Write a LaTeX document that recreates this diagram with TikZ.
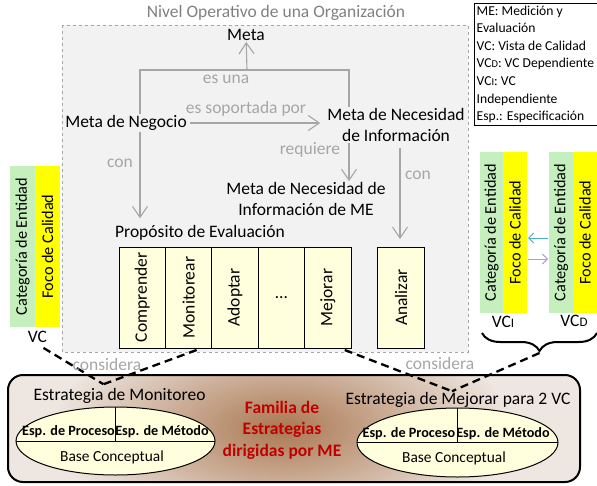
\documentclass[tikz,border=0pt]{standalone}
\usepackage{fontspec}
\setmainfont{Carlito}
\usetikzlibrary{positioning,calc,arrows.meta,shapes.geometric,decorations.pathreplacing}
\definecolor{grisrel}{RGB}{166,166,166}
\definecolor{gristit}{RGB}{128,128,128}
\definecolor{fondonivel}{RGB}{242,242,242}
\definecolor{crema}{RGB}{255,255,221}
\definecolor{verdevc}{RGB}{198,239,190}
\definecolor{amarillovc}{RGB}{255,255,0}
\definecolor{rojofam}{RGB}{192,0,0}
\definecolor{marron}{RGB}{170,120,82}
\definecolor{fondopanel}{RGB}{238,230,224}
\definecolor{azulflecha}{RGB}{75,172,198}
\definecolor{lilaflecha}{RGB}{177,160,199}
\newcommand{\vcsub}[2]{VC{\fontsize{#2}{#2}\selectfont #1}}

\begin{document}
\begin{tikzpicture}[x=1pt,y=-1pt,
  txt/.style={font=\fontsize{17.5}{21}\selectfont,inner sep=1pt,align=center},
  rel/.style={txt,text=grisrel},
  flecha/.style={draw=grisrel,line width=1.1pt,-{Straight Barb[length=11pt,width=15pt]}},
  linea/.style={draw=grisrel,line width=1.1pt},
  caja/.style={draw,fill=crema,line width=0.9pt,minimum width=46.4pt,minimum height=101pt,inner sep=0pt,outer sep=0pt,font=\fontsize{17.5}{21}\selectfont},
  vcverde/.style={fill=verdevc,minimum width=25pt,minimum height=161pt,inner sep=0pt,outer sep=0pt,font=\fontsize{16.3}{20}\selectfont},
  vcamarillo/.style={vcverde,fill=amarillovc},
  conector/.style={draw,line width=2.3pt,dash pattern=on 8pt off 5pt},
  esp/.style={font=\fontsize{14.2}{16}\selectfont\bfseries,inner sep=0pt},
  elipse/.style={draw,fill=crema,ellipse,line width=1pt,inner sep=0pt,outer sep=0pt}]
        \useasboundingbox (0,0) rectangle (597,485);
        %nivel operativo
        \draw[draw=grisrel,fill=fondonivel,dashed,line width=0.8pt] (62,25) rectangle (468,352);
        \node[txt,text=gristit] (titulo) at (276,13) {Nivel Operativo de una Organización};
        %metas
        \node[txt] (meta) at (246,35) {Meta};
        \node[txt] (negocio) at (126,123) {Meta de Negocio};
        \node[txt] (necinfo) at (396,125) {Meta de Necesidad\\de Información};
        \node[txt] (necme) at (306,199) {Meta de Necesidad de\\Información de ME};
        \node[txt] (proposito) at (200,233) {Propósito de Evaluación};
        %columnas de las flechas
        \coordinate (esuna) at (247,70);
        \coordinate (colA) at (140,0);
        \coordinate (colB) at (349,0);
        \coordinate (colC) at (400,0);
        \draw[linea] (negocio.north -| colA) |- (esuna) -| (necinfo.north -| colB);
        \draw[flecha] (esuna) -- (meta);
        \draw[flecha,shorten <=2pt,shorten >=6pt] (negocio.east) -- (necinfo.west |- negocio.east);
        \draw[flecha,shorten >=6pt] (negocio.south -| colA) -- (proposito.north -| colA);
        \draw[flecha] (necinfo.south -| colB) -- (necme.north -| colB);
        %propositos
        \node[caja] (comprender) at (142.2,297.5) {\rotatebox{90}{Comprender}};
        \node[caja,right=0pt of comprender] (monitorear) {\rotatebox{90}{Monitorear}};
        \node[caja,right=0pt of monitorear] (adoptar) {\rotatebox{90}{Adoptar}};
        \node[caja,right=0pt of adoptar] (puntos) {\dots};
        \node[caja,right=0pt of puntos] (mejorar) {\rotatebox{90}{Mejorar}};
        \node[caja] (analizar) at (401,297.5) {\rotatebox{90}{Analizar}};
        \draw[flecha,shorten <=5pt,shorten >=8pt] (necinfo.south -| colC) -- (analizar.north -| colC);
        %etiquetas
        \node[rel] (lesuna) at (226,79) {es una};
        \node[rel] (lsoporta) at (246,109) {es soportada por};
        \node[rel] (lconA) at (120,163) {con};
        \node[rel] (lrequiere) at (310,150) {requiere};
        \node[rel] (lconC) at (418,175) {con};
        %vista de calidad
        \node[vcverde] (catvc) at (22.5,246.5) {\rotatebox{90}{Categoría de Entidad}};
        \node[vcamarillo,right=0pt of catvc] (focvc) {\rotatebox{90}{Foco de Calidad}};
        \node[txt] (vc) at (37.5,337) {VC};
        \node[vcverde,minimum width=23pt] (catI) at (491.5,232.5) {\rotatebox{90}{Categoría de Entidad}};
        \node[vcamarillo,minimum width=24pt,right=0pt of catI] (focI) {\rotatebox{90}{Foco de Calidad}};
        \node[vcverde,minimum width=24pt] (catD) at (561,232.5) {\rotatebox{90}{Categoría de Entidad}};
        \node[vcamarillo,minimum width=24pt,right=0pt of catD] (focD) {\rotatebox{90}{Foco de Calidad}};
        \node[txt] (vcI) at (503,322) {\vcsub{I}{13}};
        \node[txt] (vcD) at (574,321) {\vcsub{D}{13}};
        \draw[azulflecha,line width=1pt,shorten <=1pt,shorten >=1pt,-{Straight Barb[length=5pt,width=10pt]}] ([yshift=-5.5pt]catD.west) -- ([yshift=-5.5pt]focI.east);
        \draw[lilaflecha,line width=1pt,shorten <=1pt,shorten >=1pt,-{Straight Barb[length=5pt,width=10pt]}] ([yshift=-26.5pt]focI.east) -- ([yshift=-26.5pt]catD.west);
        \draw[line width=2pt,decorate,decoration={brace,mirror,amplitude=18pt}] (482,333) -- (597,333);
        \coordinate (llave) at (539.5,353);
        %leyenda
        \node[anchor=north west,align=left,inner sep=2.5pt,font=\fontsize{13.6}{17.6}\selectfont] (leyenda) at (474,3)
          {ME: Medición y\\Evaluación\\VC: Vista de Calidad\\\vcsub{D}{10.5}: VC Dependiente\\\vcsub{I}{10.5}: VC\\Independiente\\Esp.: Especificación};
        \coordinate (finley) at (600,0);
        \draw[line width=0.8pt] (leyenda.south west) rectangle (leyenda.north -| finley);
        %familia de estrategias
        \fill[fondopanel,rounded corners=15pt] (8,375) rectangle (580,482);
        \begin{scope}
        \clip[rounded corners=15pt] (8,375) rectangle (580,482);
        \shade[inner color=marron,outer color=fondopanel] (282,428) ellipse (230pt and 110pt);
        \end{scope}
        \draw[line width=2pt,rounded corners=15pt] (8,375) rectangle (580,482);
        \node[txt,text=rojofam,font=\fontsize{17.5}{21.5}\selectfont\bfseries] (familia) at (282,430) {Familia de\\Estrategias\\dirigidas por ME};
        \node[txt] (estmon) at (119.5,396) {Estrategia de Monitoreo};
        \node[txt] (estmej) at (458,400) {Estrategia de Mejorar para 2 VC};
        \node[elipse,minimum width=199pt,minimum height=68pt] (elmon) at (115.5,441) {};
        \draw[line width=1pt] (elmon.west) -- (elmon.east);
        \draw[line width=1pt] (elmon.north) -- (elmon.center);
        \node[elipse,minimum width=201pt,minimum height=69pt] (elmej) at (457.5,442.5) {};
        \draw[line width=1pt] (elmej.west) -- (elmej.east);
        \draw[line width=1pt] (elmej.north) -- (elmej.center);
        \node[esp] (procmon) at (68.5,432) {Esp. de Proceso};
        \node[esp] (metmon) at (162,432) {Esp. de Método};
        \node[txt,font=\fontsize{15.4}{18}\selectfont] (basemon) at (112,457) {Base Conceptual};
        \node[esp] (procmej) at (409,434) {Esp. de Proceso};
        \node[esp] (metmej) at (503,434) {Esp. de Método};
        \node[txt,font=\fontsize{15.4}{18}\selectfont] (basemej) at (454,458) {Base Conceptual};
        %considera
        \draw[conector] ($(vc.south)+(6,4)$) -- ($(estmon.north)+(-16,-3)$);
        \draw[conector] ($(monitorear.south)+(8,2)$) -- ($(estmon.north)+(-16,-3)$);
        \draw[conector] ($(mejorar.south)+(17,2)$) -- ($(estmej.north)+(-6,0)$);
        \draw[conector] (llave) -- ($(estmej.north)+(-6,0)$);
        \node[rel] (consA) at (107,364) {considera};
        \node[rel] (consB) at (440,363) {considera};
\end{tikzpicture}
\end{document}
